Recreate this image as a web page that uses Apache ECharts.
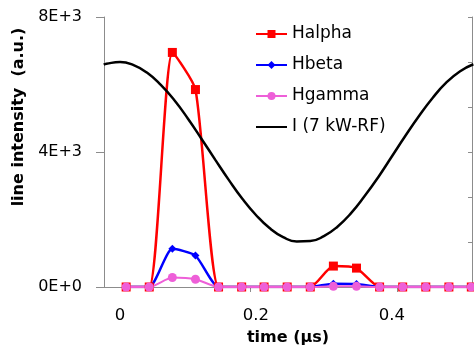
<!DOCTYPE html>
<html><head><meta charset="utf-8">
<script src="https://cdn.jsdelivr.net/npm/echarts@6.0.0/dist/echarts.min.js"></script>
<style>html,body{margin:0;padding:0;background:#fff}#c{width:474px;height:351px}</style>
</head><body><div id="c"></div>
<script>
// Emission line samples (time in µs)
const timeH  = [0.009, 0.043, 0.077, 0.111, 0.145, 0.179, 0.212, 0.246, 0.280, 0.314, 0.348, 0.382, 0.416, 0.450, 0.484, 0.517];
const halpha = [0, 0, 6950, 5850, 0, 0, 0, 0, 0, 620, 560, 0, 0, 0, 0, 0];
const hbeta  = [0, 0, 1130, 930, 0, 0, 0, 0, 0, 100, 90, 0, 0, 0, 0, 0];
const hgamma = [0, 0, 280, 230, 0, 0, 0, 0, 0, 20, 20, 0, 0, 0, 0, 0];
// RF current trace (secondary axis)
const timeI    = [-0.024, -0.02, 0, 0.02, 0.04, 0.06, 0.08, 0.10, 0.12, 0.14, 0.16, 0.18, 0.20, 0.22, 0.24, 0.26, 0.28, 0.30, 0.32, 0.34, 0.36, 0.38, 0.40, 0.42, 0.44, 0.46, 0.48, 0.50, 0.52];
const currentI = [4.94, 4.96, 5.00, 4.93, 4.76, 4.49, 4.15, 3.74, 3.29, 2.83, 2.38, 1.96, 1.60, 1.31, 1.11, 1.01, 1.02, 1.13, 1.34, 1.64, 2.02, 2.44, 2.90, 3.36, 3.80, 4.20, 4.54, 4.79, 4.95];
// Axis marks
const xLabelValues = [0, 0.2, 0.4];
const xTickValues  = [0.191, 0.408];
const seriesNames = ['Halpha', 'Hbeta', 'Hgamma', 'I (7 kW-RF)'];

const zip = (xs, ys) => xs.map((x, i) => [x, ys[i]]);
const FONT = 'DejaVu Sans';
const AX = '#8c8c8c';
const SMOOTH = 0.2;

const chart = echarts.init(document.getElementById('c'), null, {renderer: 'canvas'});
chart.setOption({
  animation: false,
  backgroundColor: '#fff',
  grid: {left: 104, right: 2, top: 17, bottom: 64, containLabel: false},
  legend: {
    orient: 'vertical', left: 250, top: 19,
    itemWidth: 31, itemHeight: 10, itemGap: 11,
    data: [
      {name: seriesNames[0]}, {name: seriesNames[1]}, {name: seriesNames[2]},
      {name: seriesNames[3], itemStyle: {opacity: 0, color: 'rgba(0,0,0,0)', borderWidth: 0}}
    ],
    textStyle: {fontFamily: FONT, fontSize: 17, color: '#000', lineHeight: 20}
  },
  xAxis: {
    type: 'value', min: -0.0236, max: 0.518,
    name: 'time (µs)', nameLocation: 'middle', nameGap: 43,
    nameTextStyle: {fontFamily: FONT, fontSize: 16, fontWeight: 'bold', color: '#000'},
    axisLine: {show: true, onZero: false, lineStyle: {color: AX, width: 1}},
    axisTick: {show: true, customValues: xTickValues, length: 5, lineStyle: {color: AX}},
    axisLabel: {customValues: xLabelValues, margin: 20, fontFamily: FONT, fontSize: 16.5, color: '#000',
      formatter: v => String(+v.toFixed(1))},
    splitLine: {show: false}
  },
  yAxis: [{
    type: 'value', min: 0, max: 8000, interval: 4000, position: 'left',
    name: 'line intensity  (a.u.)', nameLocation: 'middle', nameGap: 58, nameRotate: 90,
    nameTextStyle: {fontFamily: FONT, fontSize: 16, fontWeight: 'bold', color: '#000', padding: [0, 0, 0, 70]},
    axisLine: {show: true, onZero: false, lineStyle: {color: AX, width: 1}},
    axisTick: {show: true, length: 8, lineStyle: {color: AX}},
    axisLabel: {margin: 22, fontFamily: FONT, fontSize: 16, color: '#000',
      formatter: v => v.toExponential(0).toUpperCase()},
    splitLine: {show: false}
  }, {
    type: 'value', min: 0, max: 6, interval: 1, position: 'right',
    axisLine: {show: true, onZero: false, lineStyle: {color: AX, width: 1}},
    axisTick: {show: true, inside: true, length: 4, lineStyle: {color: AX}},
    axisLabel: {show: false},
    splitLine: {show: false}
  }],
  series: [
    {name: 'Halpha', type: 'line', data: zip(timeH, halpha), smooth: SMOOTH, clip: true,
      symbol: 'rect', symbolSize: 9, color: '#ff0000',
      lineStyle: {width: 2.5, color: '#ff0000'}, itemStyle: {color: '#ff0000'}},
    {name: 'Hbeta', type: 'line', data: zip(timeH, hbeta), smooth: SMOOTH, clip: true,
      symbol: 'diamond', symbolSize: 8, color: '#0000ff',
      lineStyle: {width: 2.5, color: '#0000ff'}, itemStyle: {color: '#0000ff'}},
    {name: 'Hgamma', type: 'line', data: zip(timeH, hgamma), smooth: SMOOTH, clip: true,
      symbol: 'circle', symbolSize: 9, color: '#ee5fd8',
      lineStyle: {width: 2, color: '#ee5fd8'}, itemStyle: {color: '#ee5fd8'}},
    {name: 'I (7 kW-RF)', type: 'line', yAxisIndex: 1, data: zip(timeI, currentI), smooth: true, clip: true,
      symbol: 'none', showSymbol: false, color: '#000', z: 3,
      lineStyle: {width: 2.5, color: '#000'}}
  ]
});
</script>
</body></html>
